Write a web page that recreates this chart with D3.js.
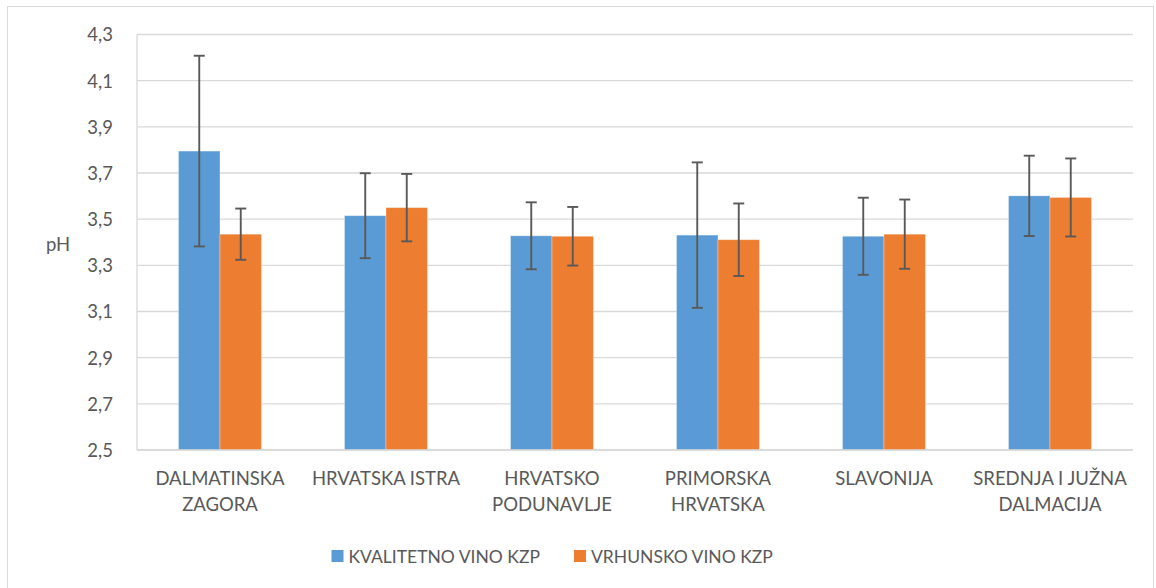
<!DOCTYPE html>
<html><head><meta charset="utf-8">
<script src="https://cdn.jsdelivr.net/npm/d3@7"></script>
<style>body{margin:0;background:#fff}svg{display:block}text{font-family:Lato,"Open Sans",sans-serif;fill:#595959}</style>
</head><body><svg id="c" width="1156" height="588"></svg>
<script>
const categories = [["DALMATINSKA","ZAGORA"],["HRVATSKA ISTRA"],["HRVATSKO","PODUNAVLJE"],["PRIMORSKA","HRVATSKA"],["SLAVONIJA"],["SREDNJA I JUŽNA","DALMACIJA"]];
const seriesNames = ["KVALITETNO VINO KZP","VRHUNSKO VINO KZP"];
const kvalitetno = [3.795, 3.515, 3.428, 3.431, 3.426, 3.601];
const kvalitetnoErr = [0.413, 0.184, 0.145, 0.315, 0.167, 0.174];
const vrhunsko = [3.435, 3.550, 3.426, 3.411, 3.435, 3.594];
const vrhunskoErr = [0.111, 0.146, 0.127, 0.157, 0.150, 0.169];
const yTicks = [2.5, 2.7, 2.9, 3.1, 3.3, 3.5, 3.7, 3.9, 4.1, 4.3];
const colors = ["#5b9bd5", "#ed7d31"];

const svg = d3.select("#c");
svg.append("rect").attr("x",7.5).attr("y",6.5).attr("width",1146).attr("height",590)
  .attr("fill","none").attr("stroke","#d9d9d9").attr("stroke-width",1);

const L = 137, R = 1133, T = 34.5, B = 450;
const x0 = d3.scaleBand().domain(d3.range(categories.length)).range([L, R]).paddingInner(0.5).paddingOuter(0.25);
const x1 = d3.scaleBand().domain([0,1]).range([0, x0.bandwidth()]);
const y = d3.scaleLinear().domain([2.5, 4.3]).range([B, T]);

const g = svg.append("g");
g.selectAll(".grid").data(yTicks).join("line")
  .attr("x1", L).attr("x2", R).attr("y1", d => y(d)).attr("y2", d => y(d))
  .attr("stroke", "#d9d9d9").attr("stroke-width", 1.3);
g.append("line").attr("x1", L).attr("x2", L).attr("y1", T).attr("y2", B).attr("stroke","#d9d9d9").attr("stroke-width",1.3);

const yAxis = d3.axisLeft(y).tickValues(yTicks).tickSize(0).tickPadding(0)
  .tickFormat(d => d3.format(".1f")(d).replace(".", ","));
const ya = svg.append("g").attr("transform", `translate(${113},0)`).call(yAxis);
ya.select(".domain").remove();
ya.selectAll("text").style("font-size","18.5px").attr("fill","#595959").attr("dy","0.35em");

svg.append("text").attr("x", 58).attr("y", 245).attr("dy","0.35em").attr("text-anchor","middle")
  .style("font-size","18.5px").text("pH");

const series = [
  {vals: kvalitetno, err: kvalitetnoErr},
  {vals: vrhunsko, err: vrhunskoErr}
];
series.forEach((s, si) => {
  const data = s.vals.map((v, i) => ({i, v, e: s.err[i]}));
  g.selectAll(".bar"+si).data(data).join("rect")
    .attr("x", d => x0(d.i) + x1(si)).attr("width", x1.bandwidth())
    .attr("y", d => y(d.v)).attr("height", d => y(2.5) - y(d.v))
    .attr("fill", colors[si]).attr("stroke","#fff").attr("stroke-opacity",0.4).attr("stroke-width",0.8);
});
series.forEach((s, si) => {
  const data = s.vals.map((v, i) => ({i, v, e: s.err[i]}));
  const eg = g.selectAll(".err"+si).data(data).join("g").attr("stroke","#595959").attr("stroke-width",1.9);
  const cx = d => x0(d.i) + x1(si) + x1.bandwidth()/2;
  eg.append("line").attr("x1", cx).attr("x2", cx).attr("y1", d => y(d.v + d.e)).attr("y2", d => y(d.v - d.e));
  eg.append("line").attr("x1", d => cx(d)-5.5).attr("x2", d => cx(d)+5.5).attr("y1", d => y(d.v + d.e)).attr("y2", d => y(d.v + d.e));
  eg.append("line").attr("x1", d => cx(d)-5.5).attr("x2", d => cx(d)+5.5).attr("y1", d => y(d.v - d.e)).attr("y2", d => y(d.v - d.e));
});

g.append("line").attr("x1", L).attr("x2", R).attr("y1", B).attr("y2", B).attr("stroke","#d9d9d9").attr("stroke-width",1.5);

const cl = svg.selectAll(".cat").data(categories).join("text")
  .attr("text-anchor","middle").style("font-size","18.5px")
  .attr("transform", (d,i) => `translate(${x0(i) + x0.bandwidth()/2},485)`);
cl.selectAll("tspan").data(d => d).join("tspan").attr("x",0).attr("y",(d,j)=>j*26).text(d => d);

const leg = svg.append("g");
const legX = [331.5, 574];
seriesNames.forEach((n, i) => {
  leg.append("rect").attr("x", legX[i]).attr("y", 550).attr("width", 12).attr("height", 12).attr("fill", colors[i]);
  leg.append("text").attr("x", legX[i] + 17).attr("y", 563).style("font-size","17.5px").text(n);
});
</script></body></html>
